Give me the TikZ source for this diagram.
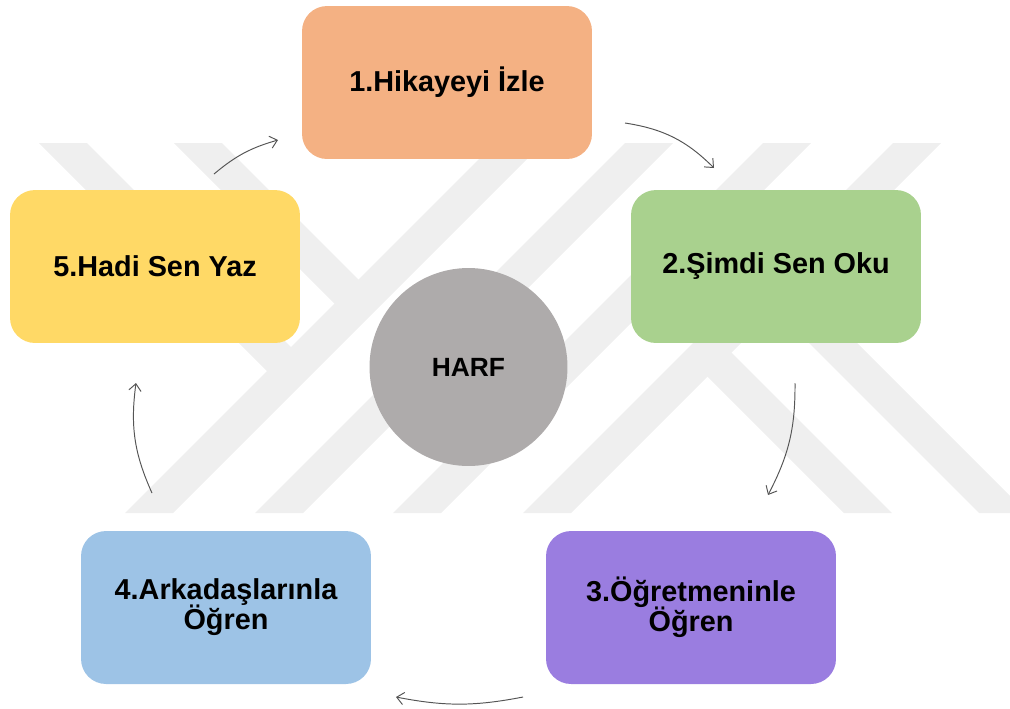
\documentclass[tikz,border=0pt]{standalone}
\usepackage{fontspec}
\setmainfont{Liberation Sans}
\usetikzlibrary{arrows.meta}
\definecolor{cOrange}{HTML}{F4B183}
\definecolor{cGreen}{HTML}{A9D18E}
\definecolor{cPurple}{HTML}{9A7DE0}
\definecolor{cBlue}{HTML}{9DC3E6}
\definecolor{cYellow}{HTML}{FFD966}
\definecolor{cCircle}{HTML}{AEABAB}
\definecolor{cMark}{HTML}{EFEFEF}
\definecolor{cArrow}{HTML}{555555}
\newcommand\myboxfont{\fontsize{16.4}{17}\selectfont\bfseries\setlength{\lineskiplimit}{-20pt}}
\tikzset{
  stagebox/.style={rounded corners=0.5cm, minimum width=5.8cm, minimum height=3.06cm,
    align=center, inner sep=0pt, font=\myboxfont},
  hub/.style={circle, minimum size=3.96cm, inner sep=0pt, fill=cCircle,
    font=\fontsize{15}{18}\selectfont\bfseries},
  cyc/.style={draw=cArrow, line width=0.55pt, -{Straight Barb[length=4pt,width=7pt]}},
  wm/.style={fill=cMark}
}
\begin{document}
\begin{tikzpicture}[x=0.02cm,y=-0.02cm]
\useasboundingbox (0,0) rectangle (1010,708);
% watermark
\begin{scope}
\clip (0,0) rectangle (1010,708);
\fill[wm] (495,143) -- (543,143) -- (173,513) -- (125,513) -- cycle;
\fill[wm] (625,143) -- (673,143) -- (303,513) -- (255,513) -- cycle;
\fill[wm] (763,143) -- (811,143) -- (441,513) -- (393,513) -- cycle;
\fill[wm] (893,143) -- (941,143) -- (571,513) -- (523,513) -- cycle;
\fill[wm] (39,143) -- (87,143) -- (303,359) -- (279,383) -- cycle;
\fill[wm] (174,143) -- (222,143) -- (370.5,291.5) -- (346.5,315.5) -- cycle;
\fill[wm] (695.5,364.5) -- (719.5,340.5) -- (892,513) -- (844,513) -- cycle;
\fill[wm] (763,297) -- (787,273) -- (1027,513) -- (979,513) -- cycle;
\end{scope}
% nodes
\node[stagebox, fill=cOrange] (s1) at (447,82.5) {1.Hikayeyi İzle};
\node[stagebox, fill=cGreen]  (s2) at (776,266.5) {2.Şimdi Sen Oku};
\node[stagebox, fill=cPurple] (s3) at (691,607.5) {3.Öğretmeninle\\Öğren};
\node[stagebox, fill=cBlue]   (s4) at (226,607.5) {4.Arkadaşlarınla\\Öğren};
\node[stagebox, fill=cYellow] (s5) at (155,266.5) {5.Hadi Sen Yaz};
\node[hub] (h) at (468.5,367) {HARF};
% arrow end points
\coordinate (a12s) at (625,123); \coordinate (a12e) at (714,168);
\coordinate (a23s) at (795,383); \coordinate (a23e) at (768,495);
\coordinate (a34s) at (523,697); \coordinate (a34e) at (396,697);
\coordinate (a45s) at (152,493); \coordinate (a45e) at (136,383);
\coordinate (a51s) at (214,174); \coordinate (a51e) at (278,140);
\draw[cyc] (a12s) to[bend left=18] (a12e);
\draw[cyc] (a23s) to[bend left=14] (a23e);
\draw[cyc] (a34s) to[bend left=11] (a34e);
\draw[cyc] (a45s) to[bend left=16] (a45e);
\draw[cyc] (a51s) to[bend left=12] (a51e);
\end{tikzpicture}
\end{document}
